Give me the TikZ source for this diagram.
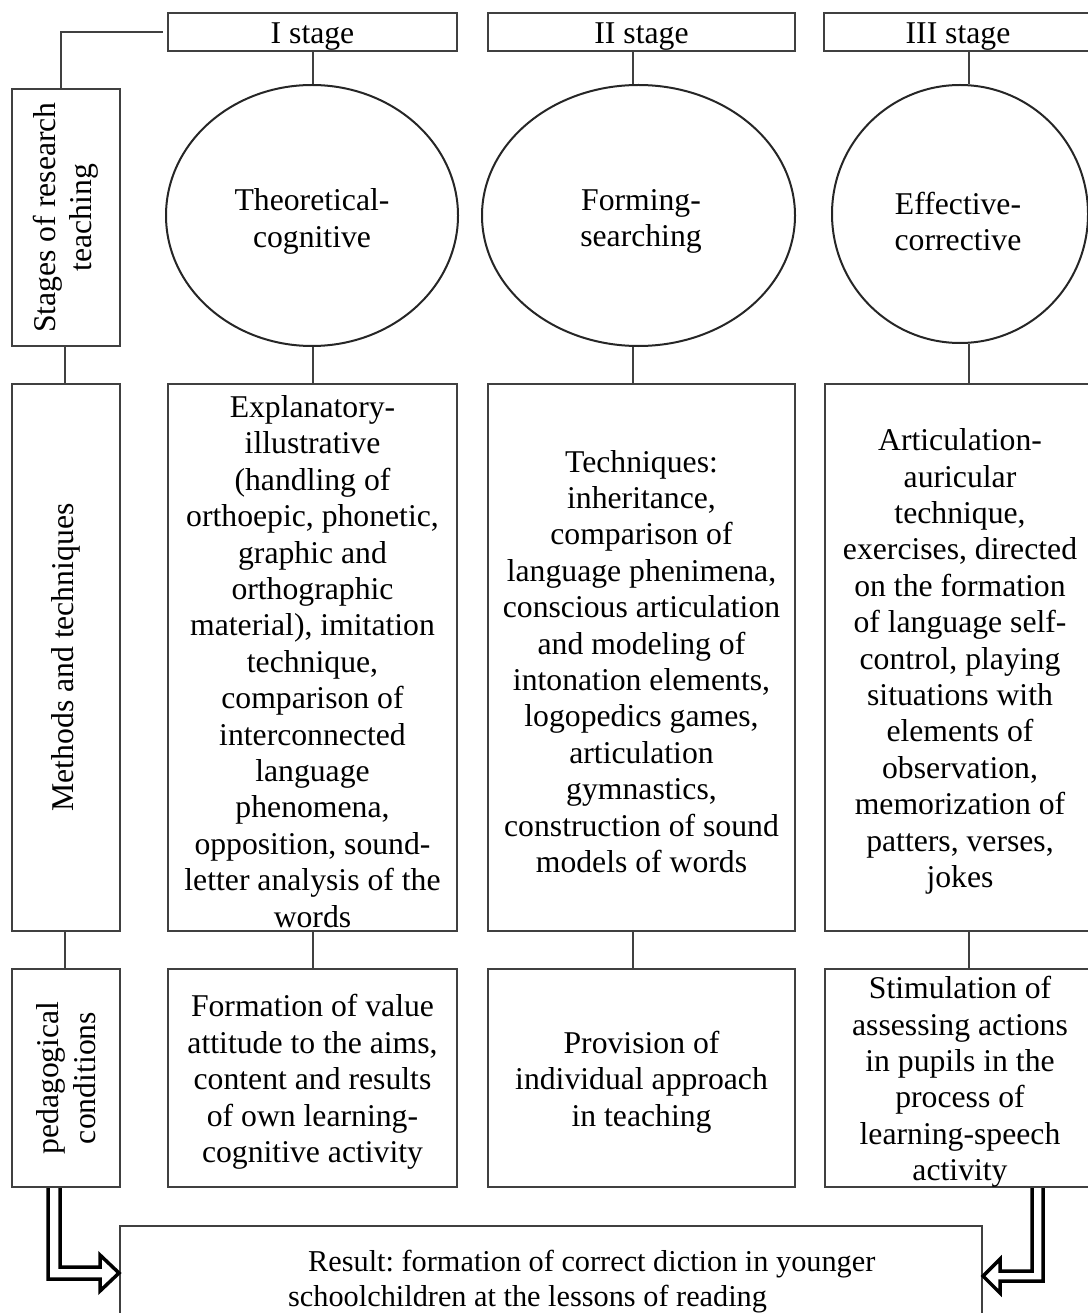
\documentclass[tikz,border=0pt]{standalone}
\usepackage{fontspec}
\setmainfont{Liberation Serif}
\usetikzlibrary{shapes.geometric}
\begin{document}
\frenchspacing
\begin{tikzpicture}[x=1pt,y=-1pt,
  box/.style={draw=black!75, line width=1.6pt, inner sep=0pt, rectangle},
  txt/.style={inner sep=0pt, align=center, font=\fontsize{31.7}{36.4}\selectfont},
  dtxt/.style={txt, yshift=-4pt},
  ell/.style={draw=black!85, line width=2pt, ellipse, inner sep=0pt},
  conn/.style={draw=black!75, line width=1.6pt},
  bigarrow/.style={draw=black, line width=3.5pt, fill=white, line join=miter}]
\useasboundingbox (0,0) rectangle (1087,1313);
% column x positions for connectors
\coordinate (c0) at (65,0);
\coordinate (c1) at (313,0);
\coordinate (c2) at (633,0);
\coordinate (c3) at (969,0);
\coordinate (tl) at (61,32);
% left column
\node[box, minimum width=108pt, minimum height=257pt] (ls) at (66,217.5) {};
\node[txt, rotate=90] (lst) at (ls) {Stages of research\\teaching};
\node[box, minimum width=108pt, minimum height=547pt] (lm) at (66,657.5) {};
\node[txt, rotate=90] (lmt) at (lm) {Methods and techniques};
\node[box, minimum width=108pt, minimum height=218pt] (lp) at (66,1078) {};
\node[txt, rotate=90] (lpt) at (lp) {pedagogical\\conditions};
% stage boxes
\node[box, minimum width=289pt, minimum height=38pt] (st1) at (312.5,32) {};
\node[box, minimum width=307pt, minimum height=38pt] (st2) at (641.5,32) {};
\node[box, minimum width=268pt, minimum height=38pt] (st3) at (958,32) {};
\node[txt, yshift=-5pt] (st1t) at (st1) {I stage};
\node[txt, yshift=-5pt] (st2t) at (st2) {II stage};
\node[txt, yshift=-5pt] (st3t) at (st3) {III stage};
% ellipses
\node[ell, minimum width=292pt, minimum height=261pt] (e1) at (312,215.5) {};
\node[ell, minimum width=313pt, minimum height=261pt] (e2) at (638.5,215.5) {};
\node[ell, minimum width=256pt, minimum height=258pt] (e3) at (960,214) {};
\node[dtxt, yshift=-2pt] (e1t) at (e1) {Theoretical-\\cognitive};
\node[dtxt, yshift=-2pt] (e2t) at (641,215.5) {Forming-\\searching};
\node[dtxt, yshift=-2pt] (e3t) at (958,215.5) {Effective-\\corrective};
% methods boxes
\node[box, minimum width=289pt, minimum height=547pt] (m1) at (312.5,657.5) {};
\node[box, minimum width=307pt, minimum height=547pt] (m2) at (641.5,657.5) {};
\node[box, minimum width=270pt, minimum height=547pt] (m3) at (960,657.5) {};
\node[dtxt] (m1t) at (m1) {Explanatory-\\illustrative\\(handling of\\orthoepic, phonetic,\\graphic and\\orthographic\\material), imitation\\technique,\\comparison of\\interconnected\\language\\phenomena,\\opposition, sound-\\letter analysis of the\\words};
\node[dtxt] (m2t) at (m2) {Techniques:\\inheritance,\\comparison of\\language phenimena,\\conscious articulation\\and modeling of\\intonation elements,\\logopedics games,\\articulation\\gymnastics,\\construction of sound\\models of words};
\node[dtxt] (m3t) at (m3) {Articulation-\\auricular\\technique,\\exercises, directed\\on the formation\\of language self-\\control, playing\\situations with\\elements of\\observation,\\memorization of\\patters, verses,\\jokes};
% pedagogical boxes
\node[box, minimum width=289pt, minimum height=218pt] (p1) at (312.5,1078) {};
\node[box, minimum width=307pt, minimum height=218pt] (p2) at (641.5,1078) {};
\node[box, minimum width=270pt, minimum height=218pt] (p3) at (960,1078) {};
\node[dtxt] (p1t) at (p1) {Formation of value\\attitude to the aims,\\content and results\\of own learning-\\cognitive activity};
\node[dtxt] (p2t) at (p2) {Provision of\\individual approach\\in teaching};
\node[dtxt] (p3t) at (p3) {Stimulation of\\assessing actions\\in pupils in the\\process of\\learning-speech\\activity};
% result box
\node[box, minimum width=862pt, minimum height=104pt] (res) at (551,1278) {};
\node[inner sep=0pt, align=left, anchor=north west, font=\fontsize{30.3}{35}\selectfont] (rest) at (288,1250) {\hspace*{20pt}Result: formation of correct diction in younger\\schoolchildren at the lessons of reading};
% connectors
\draw[conn, shorten >=4pt] (ls.north -| tl) -- (tl) -- (st1.west);
\draw[conn] (ls.south -| c0) -- (lm.north -| c0);
\draw[conn] (lm.south -| c0) -- (lp.north -| c0);
\draw[conn] (st1.south -| c1) -- (e1.north -| c1);
\draw[conn] (st2.south -| c2) -- (e2.north -| c2);
\draw[conn] (st3.south -| c3) -- (e3.north -| c3);
\draw[conn] (e1.south -| c1) -- (m1.north -| c1);
\draw[conn] (e2.south -| c2) -- (m2.north -| c2);
\draw[conn] (e3.south -| c3) -- (m3.north -| c3);
\draw[conn] (m1.south -| c1) -- (p1.north -| c1);
\draw[conn] (m2.south -| c2) -- (p2.north -| c2);
\draw[conn] (m3.south -| c3) -- (p3.north -| c3);
% big hollow arrows
\draw[bigarrow] (48,1188) -- (48,1279) -- (100,1279) -- (100,1291) -- (119,1273) -- (100,1255) -- (100,1267) -- (60,1267) -- (60,1188);
\draw[bigarrow] (1043,1188) -- (1043,1281) -- (1000,1281) -- (1000,1293) -- (983,1276) -- (1000,1259) -- (1000,1271) -- (1032,1271) -- (1032,1188);
\end{tikzpicture}
\end{document}
